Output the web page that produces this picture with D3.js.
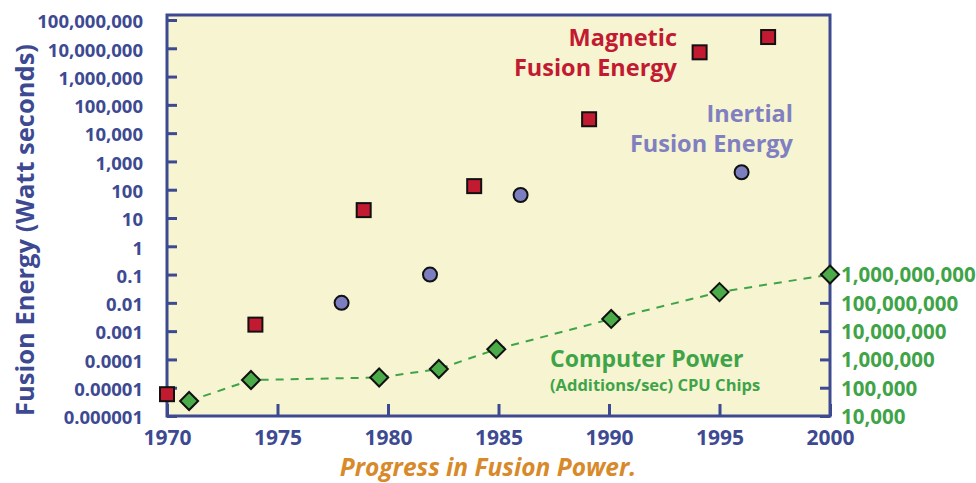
<!DOCTYPE html>
<html><head><meta charset="utf-8">
<script src="https://cdn.jsdelivr.net/npm/d3@7/dist/d3.min.js"></script>
<style>
html,body{margin:0;padding:0;background:#fff;}
svg{display:block;font-family:"Open Sans",Lato,sans-serif;font-weight:700;}
</style></head>
<body><svg id="c" width="976" height="483"></svg>
<script>
// ---- data ----
const magYears = [1970, 1974, 1978.9, 1983.9, 1989.1, 1994.1, 1997.2];
const magValues = [5.9e-6, 0.0017, 19, 134, 31000, 7.2e6, 2.5e7];
const inertialYears = [1977.9, 1981.9, 1986.0, 1996.0];
const inertialValues = [0.01, 0.1, 65, 415];
const cpuYears = [1971.0, 1973.8, 1979.6, 1982.3, 1984.9, 1990.1, 1995.0, 2000];
const cpuValues = [34000, 187000, 230000, 460000, 2.3e6, 2.7e7, 2.4e8, 1e9];
const leftTicks = [1e-6,1e-5,1e-4,1e-3,1e-2,1e-1,1,10,100,1e3,1e4,1e5,1e6,1e7,1e8];
const leftTickLabels = ["0.000001","0.00001","0.0001","0.001","0.01","0.1","1","10","100","1,000","10,000","100,000","1,000,000","10,000,000","100,000,000"];
const rightTicks = [1e4,1e5,1e6,1e7,1e8,1e9];
const rightTickLabels = ["10,000","100,000","1,000,000","10,000,000","100,000,000","1,000,000,000"];
const xTicks = [1970,1975,1980,1985,1990,1995,2000];

// ---- style ----
const navy = "#3d4a92", bg = "#f7f4d2", red = "#c21a31", purple = "#8080c0",
      purpleFill = "#7b7fc0", green = "#3fa448", greenFill = "#4aab48", orange = "#d88a2a";
const FONT = "'Open Sans', Lato, sans-serif";

const svg = d3.select("#c");
const L = 167, R = 830, T = 15, B = 416;
const x = d3.scaleLinear().domain([1970, 2000]).range([L, R]);
const y = d3.scaleLog().domain([1e-6, 1e8]).range([B, 20]);
const yR = d3.scaleLog().domain([1e4, 1e18]).range([B, 20]);

svg.append("rect").attr("x", L).attr("y", T).attr("width", R - L).attr("height", B - T)
  .attr("fill", bg);

// axes
function styleAxis(g, color, size) {
  g.select(".domain").remove();
  g.selectAll("line").attr("stroke", navy).attr("stroke-width", 3);
  g.selectAll("text").attr("fill", color).attr("font-size", size)
    .attr("font-family", FONT).attr("font-weight", 700);
}
const gl = svg.append("g").attr("transform", `translate(${L},0)`)
  .call(d3.axisLeft(y).tickValues(leftTicks).tickSizeInner(-10).tickSizeOuter(0).tickPadding(24)
    .tickFormat((d, i) => leftTickLabels[i]));
styleAxis(gl, navy, 18.5);
gl.selectAll("text").attr("dy", "0.42em");

const gr = svg.append("g").attr("transform", `translate(${R},0)`)
  .call(d3.axisRight(yR).tickValues(rightTicks).tickSizeInner(-10).tickSizeOuter(0).tickPadding(11)
    .tickFormat((d, i) => rightTickLabels[i]));
styleAxis(gr, green, 20.5);
gr.selectAll("text").attr("dy", "0.36em");

const gb = svg.append("g").attr("transform", `translate(0,${B})`)
  .call(d3.axisBottom(x).tickValues(xTicks).tickSizeInner(-12).tickSizeOuter(0).tickPadding(16)
    .tickFormat(d3.format("d")));
styleAxis(gb, navy, 21);
gb.selectAll("text").attr("dy", "0.62em");

// frame
svg.append("rect").attr("x", L).attr("y", T).attr("width", R - L).attr("height", B - T)
  .attr("fill", "none").attr("stroke", navy).attr("stroke-width", 3);

// cpu line
const cpu = cpuYears.map((d, i) => [d, cpuValues[i]]);
svg.append("path").datum(cpu)
  .attr("d", d3.line().x(d => x(d[0])).y(d => yR(d[1])))
  .attr("fill", "none").attr("stroke", green).attr("stroke-width", 2)
  .attr("stroke-dasharray", "8,7");

// markers
const mag = magYears.map((d, i) => [d, magValues[i]]);
svg.selectAll(".mag").data(mag).enter().append("rect")
  .attr("x", d => x(d[0]) - 7).attr("y", d => y(d[1]) - 7)
  .attr("width", 14).attr("height", 14)
  .attr("fill", red).attr("stroke", "#111").attr("stroke-width", 2);

const ine = inertialYears.map((d, i) => [d, inertialValues[i]]);
svg.selectAll(".ine").data(ine).enter().append("circle")
  .attr("cx", d => x(d[0])).attr("cy", d => y(d[1])).attr("r", 7)
  .attr("fill", purpleFill).attr("stroke", "#111").attr("stroke-width", 2);

svg.selectAll(".cpu").data(cpu).enter().append("path")
  .attr("transform", d => `translate(${x(d[0])},${yR(d[1])})`)
  .attr("d", "M0,-9L9,0L0,9L-9,0Z")
  .attr("fill", greenFill).attr("stroke", "#111").attr("stroke-width", 2);

// labels
function label(txt, px, py, color, size, anchor) {
  svg.append("text").attr("x", px).attr("y", py).attr("fill", color)
    .attr("font-size", size).attr("text-anchor", anchor || "start").text(txt);
}
label("Magnetic", 677, 46, red, 23.5, "end");
label("Fusion Energy", 677, 76, red, 23.5, "end");
label("Inertial", 793, 122, purple, 23.5, "end");
label("Fusion Energy", 793, 152, purple, 23.5, "end");
label("Computer Power", 550, 367, green, 23);
label("(Additions/sec) CPU Chips", 550, 391, green, 16.5);

svg.append("text").attr("transform", "translate(34,230) rotate(-90)")
  .attr("text-anchor", "middle").attr("fill", navy).attr("font-size", 25.5)
  .text("Fusion Energy (Watt seconds)");

svg.append("text").attr("x", 488).attr("y", 476).attr("text-anchor", "middle")
  .attr("fill", orange).attr("font-size", 24.5).attr("font-style", "italic")
  .text("Progress in Fusion Power.");
</script></body></html>
